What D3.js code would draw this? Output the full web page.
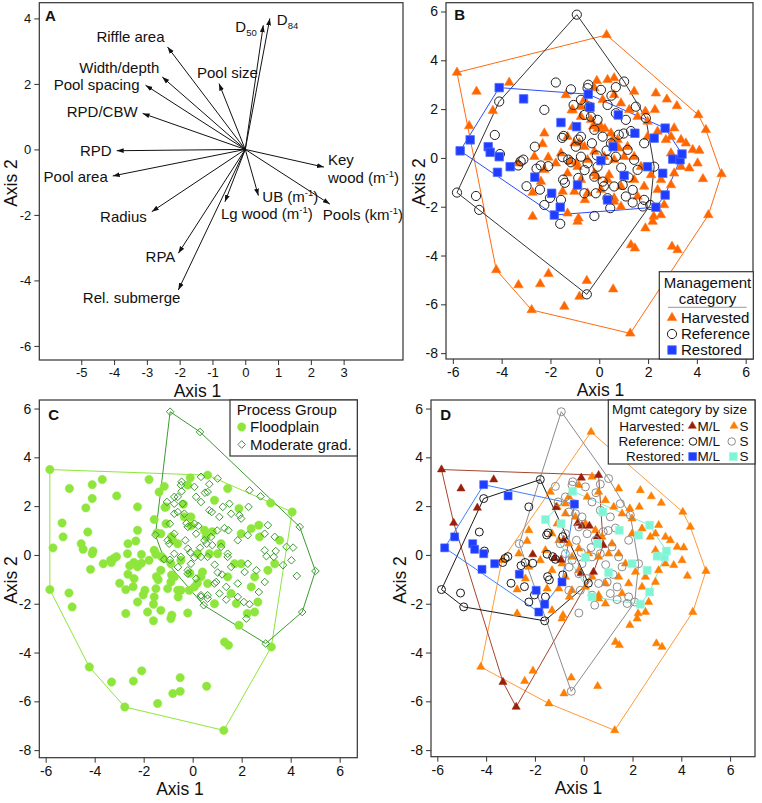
<!DOCTYPE html>
<html><head><meta charset="utf-8">
<script src="https://cdn.jsdelivr.net/npm/d3@7"></script>
<style>
body{margin:0;background:#fff}
svg{display:block}
text{font-family:"Liberation Sans",Arial,Helvetica,sans-serif;fill:#111}
</style>
</head><body>
<svg id="chart" width="762" height="803"></svg>
<script>
// ---------------- DATA ----------------
// Panel A: ordination vectors (Axis 1, Axis 2)
const vecNames = ["D50","D84","Pool size","Riffle area","Width/depth","Pool spacing","RPD/CBW","RPD","Pool area","Radius","RPA","Rel. submerge","Lg wood","UB","Key wood","Pools"];
const vecAxis1 = [0.55,0.75,-0.80,-2.37,-2.53,-3.04,-3.13,-3.92,-4.04,-2.85,-2.04,-2.04,-0.62,0.40,2.40,2.58];
const vecAxis2 = [3.79,4.00,2.01,3.13,2.21,1.96,1.10,-0.04,-0.81,-1.90,-3.17,-4.29,-1.60,-1.41,-0.54,-1.67];
// label text pieces: [text, kind] kind: "" normal, "sub", "sup"; one array per line
const vecLabelText = [
  [[["D",""],["50","sub"]]],
  [[["D",""],["84","sub"]]],
  [[["Pool size",""]]],
  [[["Riffle area",""]]],
  [[["Width/depth",""]]],
  [[["Pool spacing",""]]],
  [[["RPD/CBW",""]]],
  [[["RPD",""]]],
  [[["Pool area",""]]],
  [[["Radius",""]]],
  [[["RPA",""]]],
  [[["Rel. submerge",""]]],
  [[["Lg wood (m",""],["-1","sup"],[")",""]]],
  [[["UB (m",""],["-1","sup"],[")",""]]],
  [[["Key",""]],[["wood (m",""],["-1","sup"],[")",""]]],
  [[["Pools (km",""],["-1","sup"],[")",""]]]
];

// Sites: [Axis 1, Axis 2, process group] ; process: F = Floodplain, M = Moderate grad.
const harvestedML = [
[-5.83,3.50,"F"],[-5.03,2.72,"F"],[-3.69,3.09,"F"],[-4.36,1.93,"F"],[-5.33,1.31,"F"],
[-0.10,3.16,"F"],[0.61,3.27,"F"],[-1.13,1.95,"F"],[-0.25,1.30,"M"],[-0.07,1.19,"F"],
[0.23,1.19,"M"],[-2.09,0.02,"F"],[-1.20,-0.14,"F"],[-0.93,-0.20,"M"],[0.55,0.75,"F"],
[0.80,0.40,"M"],[-0.11,-0.75,"F"],[0.40,-0.70,"F"],[-0.82,0.61,"F"],[-3.31,-5.21,"F"],[-2.77,-6.23,"F"]
];
const harvestedS = [
[0.30,5.04,"M"],[0.34,3.20,"M"],[1.43,2.72,"F"],[2.32,2.65,"M"],[2.77,2.40,"M"],[3.18,2.13,"F"],[4.06,1.76,"F"],[4.37,1.15,"M"],
[2.28,1.97,"M"],[1.89,1.90,"F"],[3.07,1.22,"M"],[3.55,0.60,"F"],[3.83,0.33,"M"],[4.10,0.30,"M"],[5.01,-0.66,"M"],[4.25,-0.86,"M"],[-1.37,2.58,"F"],
[-2.25,1.01,"F"],[-2.32,0.57,"F"],[-2.66,0.05,"F"],[-3.35,-0.22,"F"],[-1.78,-0.22,"F"],[-2.25,-0.49,"F"],[-2.39,-0.97,"F"],[-2.73,-1.42,"F"],
[-1.09,1.97,"F"],[-0.75,2.10,"M"],[-0.61,2.38,"M"],[-0.20,2.86,"F"],[0.14,2.38,"M"],[0.61,2.58,"M"],[0.89,2.24,"F"],[1.23,1.97,"M"],
[1.57,1.69,"M"],[1.98,1.49,"M"],[2.39,1.08,"F"],[2.73,0.74,"F"],[2.94,0.19,"M"],[3.35,-0.36,"F"],[3.69,-0.42,"M"],[3.07,-0.63,"F"],
[2.53,-0.90,"F"],[2.12,-0.70,"M"],[1.71,-0.36,"F"],[1.43,0.05,"M"],[1.16,0.46,"F"],[0.75,0.74,"M"],[0.48,1.01,"F"],[0.07,1.28,"M"],
[-0.34,1.56,"F"],[-0.75,1.69,"M"],[-1.09,1.28,"F"],[-1.30,0.87,"F"],[-1.02,0.60,"M"],[-0.61,0.46,"F"],[-0.20,0.26,"M"],[0.20,0.05,"F"],
[0.61,-0.08,"M"],[1.02,0.05,"F"],[-0.48,-0.08,"M"],[-0.89,-0.36,"F"],[-1.30,-0.63,"F"],[-1.57,0.19,"F"],[-0.75,-0.90,"F"],[-0.20,-0.63,"M"],
[0.34,-0.90,"F"],[0.89,-1.17,"M"],[1.43,-0.90,"F"],[1.84,-1.17,"M"],[2.39,-1.31,"F"],[2.94,-1.11,"M"],[0.07,-1.31,"F"],[-0.48,-1.45,"F"],
[-1.02,-1.38,"F"],[-1.50,-1.38,"F"],[0.61,-1.65,"M"],[1.57,-1.58,"F"],[1.98,0.87,"F"],[2.94,0.87,"M"],[3.35,0.74,"M"],[4.03,-0.22,"M"],
[-2.73,-2.40,"F"],[-1.30,-2.27,"F"],[-0.89,-2.61,"F"],[-0.85,-2.47,"F"],[-0.59,-1.72,"F"],[0.89,-2.00,"F"],[0.61,-1.79,"M"],[1.89,-2.88,"F"],
[2.19,-2.61,"M"],[2.23,-2.40,"F"],[2.53,-2.34,"F"],[2.66,-1.93,"F"],[1.30,-3.57,"F"],[1.46,-3.70,"F"],[2.98,-3.63,"M"],[3.21,-3.77,"F"],
[4.47,-2.34,"M"],[-4.22,-4.59,"F"],[-2.42,-5.17,"F"],[-2.08,-4.75,"F"],[-0.51,-5.03,"F"],[-0.81,-5.68,"F"],[0.57,-5.38,"F"],[-1.43,-6.09,"F"],[1.27,-7.19,"F"]
];
const referenceML = [
[-1.78,3.09,"F"],[-2.25,1.97,"F"],[-4.10,2.31,"F"],[-4.28,0.94,"F"],[-4.07,0.16,"F"],[-5.83,-1.42,"F"],[-5.05,-1.56,"F"],
[-3.32,-0.31,"F"],[-3.22,-0.14,"F"],[-3.11,-0.07,"F"],[-2.57,-0.44,"F"],[-2.40,-0.31,"F"],[-2.09,-0.34,"F"],[-2.98,-1.16,"F"],
[-2.43,-1.30,"F"],[-2.02,-1.64,"F"],[-1.48,-0.89,"F"],[-1.41,-1.02,"F"],[-1.50,0.03,"F"],[-1.27,-0.07,"F"],[-1.16,-0.18,"M"],
[-0.86,-0.82,"F"],[-1.52,0.82,"M"],[-0.86,0.75,"F"],[0.19,-1.16,"F"],[-4.92,-2.13,"F"],[-2.25,-1.93,"F"],[-1.60,-2.70,"F"],
[-1.57,-1.72,"F"],[-1.46,0.90,"F"]
];
const referenceS = [
[-0.92,5.87,"M"],[-1.16,2.81,"F"],[-0.48,2.86,"M"],[0.07,2.79,"M"],[0.68,2.90,"M"],[1.02,3.13,"M"],[-0.75,2.38,"M"],[-0.41,2.10,"M"],
[-0.61,1.76,"M"],[-0.34,1.69,"M"],[-0.07,1.56,"F"],[0.34,2.17,"M"],[0.68,1.83,"M"],[1.09,1.56,"M"],[1.50,2.10,"M"],[1.91,1.63,"M"],
[1.84,0.60,"M"],[1.16,0.33,"M"],[0.80,0.95,"F"],[0.48,0.60,"M"],[0.14,0.87,"M"],[-0.20,1.15,"M"],[-0.75,0.87,"M"],[-0.96,0.46,"M"],
[-0.75,0.05,"M"],[-0.48,-0.22,"F"],[-0.07,-0.36,"M"],[0.34,-0.08,"M"],[0.68,0.05,"F"],[1.43,-0.08,"M"],[1.57,-0.49,"M"],[2.25,-0.36,"M"],
[-0.20,-0.77,"M"],[0.14,-0.97,"M"],[0.61,-1.17,"F"],[0.96,-1.11,"M"],[1.37,-1.31,"M"],[-0.61,-1.45,"F"],[-0.14,-1.45,"F"],[0.34,-1.65,"M"],
[1.09,-1.58,"M"],[1.84,-1.72,"M"],[-0.20,-2.38,"F"],[0.45,-2.06,"M"],[1.37,-1.83,"M"],[1.78,-1.99,"F"],[2.09,-1.93,"M"],[-0.51,-5.59,"F"],
[-0.45,3.00,"M"],[0.50,2.55,"M"],[1.30,1.10,"M"],[1.00,1.00,"M"],[0.30,0.30,"M"],[-0.30,0.60,"M"],[-0.60,-0.50,"M"],[0.90,-0.40,"M"],
[1.20,-0.80,"M"],[-0.10,0.10,"M"],[-2.64,0.46,"F"],[-1.05,2.17,"M"]
];
const restoredML = [
[-4.10,2.88,"F"],[-3.10,2.42,"F"],[-5.29,0.74,"F"],[-5.70,0.29,"F"],[-4.55,0.46,"F"],[-4.47,0.23,"F"],[-4.10,0.05,"F"],[-3.65,-0.36,"F"],
[-4.17,-0.59,"F"],[-2.64,-0.79,"F"],[-1.95,-1.45,"F"],[-0.38,2.08,"F"],[-0.89,-1.11,"F"],[-1.84,-2.34,"F"],[-1.60,-2.02,"F"]
];
const restoredS = [
[-0.45,2.61,"M"],[-1.57,1.45,"F"],[-0.93,1.28,"M"],[0.78,1.76,"M"],[1.46,1.01,"M"],[2.25,0.81,"M"],[2.70,1.22,"F"],[3.01,-0.05,"M"],
[3.31,-0.08,"M"],[3.39,0.16,"M"],[1.98,-0.36,"F"],[2.60,-0.63,"M"],[1.02,-0.72,"M"],[0.07,-0.11,"M"],[0.57,0.46,"M"],[2.70,-1.52,"M"],
[2.32,-2.02,"M"],[0.34,-1.72,"M"]
];

// tick values
const ticksAx = [-5,-4,-3,-2,-1,0,1,2,3];
const ticksAy = [-6,-4,-2,0,2,4];
const ticksX = [-6,-4,-2,0,2,4,6];
const ticksY = [-8,-6,-4,-2,0,2,4,6];

// ---------------- LAYOUT ----------------
const panels = {
  A:{left:39.3,right:403,top:2.7,bottom:360,xDom:[-6.28,4.81],yDom:[-6.43,4.48]},
  B:{left:446,right:753,top:2.7,bottom:359,xDom:[-6.28,6.30],yDom:[-8.24,6.36]},
  C:{left:39.3,right:357.3,top:400,bottom:757.7,xDom:[-6.26,6.72],yDom:[-8.31,6.35]},
  D:{left:431,right:755,top:400,bottom:756.7,xDom:[-6.26,7.02],yDom:[-8.27,6.35]}
};
// label offsets from arrow tip (px) and anchor
const vecLabelPos = [
  [-28,7,"start"],[7,7,"start"],[-22,-6,"start"],[-3,-5,"end"],[-3,-4,"end"],[-6,5,"end"],
  [-5,4,"end"],[-5,5,"end"],[-5,6,"end"],[-5,10,"end"],[-3,9,"end"],[2,13,"end"],
  [-4,17,"start"],[4,6,"start"],[4,-2,"start"],[-7,16,"start"]
];

const svg = d3.select("#chart");
svg.append("rect").attr("width",762).attr("height",803).attr("fill","#fff");
const defs = svg.append("defs");
defs.append("marker").attr("id","arrow").attr("viewBox","0 0 10 10")
  .attr("refX",10).attr("refY",5).attr("markerWidth",7).attr("markerHeight",7)
  .attr("orient","auto").attr("markerUnits","userSpaceOnUse")
  .append("path").attr("d","M0,1.5 L10,5 L0,8.5 Z").attr("fill","#111");

function makePanel(p, xt, yt, letter, letterXY, xTitleXY, yTitleXY, tickFont){
  const xs = d3.scaleLinear().domain(p.xDom).range([p.left,p.right]);
  const ys = d3.scaleLinear().domain(p.yDom).range([p.bottom,p.top]);
  const g = svg.append("g");
  const ax = g.append("g").attr("transform",`translate(0,${p.bottom})`)
    .call(d3.axisBottom(xs).tickValues(xt).tickSize(5).tickPadding(3).tickSizeOuter(0).tickFormat(d=>String(d)));
  const ay = g.append("g").attr("transform",`translate(${p.left},0)`)
    .call(d3.axisLeft(ys).tickValues(yt).tickSize(5).tickPadding(3).tickSizeOuter(0).tickFormat(d=>String(d)));
  [ax,ay].forEach(a=>{
    a.select(".domain").remove();
    a.selectAll(".tick line").attr("stroke","#333").attr("stroke-width",1);
    a.selectAll(".tick text").attr("font-size",tickFont).attr("fill","#111")
      .attr("font-family",'"Liberation Sans",Arial,sans-serif');
  });
  g.append("text").attr("x",xTitleXY[0]).attr("y",xTitleXY[1]).attr("text-anchor","middle")
    .attr("font-size",17.5).text("Axis 1");
  g.append("text").attr("transform",`translate(${yTitleXY[0]},${yTitleXY[1]}) rotate(-90)`)
    .attr("text-anchor","middle").attr("font-size",17.5).text("Axis 2");
  const body = g.append("g");
  g.append("rect").attr("x",p.left).attr("y",p.top).attr("width",p.right-p.left).attr("height",p.bottom-p.top)
    .attr("fill","none").attr("stroke","#333").attr("stroke-width",1.2);
  g.append("text").attr("x",letterXY[0]).attr("y",letterXY[1]).attr("font-weight","bold")
    .attr("font-size",15).text(letter);
  return {xs,ys,g,body};
}

function symPath(kind, s){
  if(kind==="tri") return d3.symbol().type(d3.symbolTriangle).size(s*s*0.433)();
  if(kind==="sq") return d3.symbol().type(d3.symbolSquare).size(s*s)();
  if(kind==="circ") return d3.symbol().type(d3.symbolCircle).size(Math.PI*s*s/4)();
  if(kind==="dia"){const r=s/2; return `M0,${-r}L${r},0L0,${r}L${-r},0Z`;}
}
function drawPts(layer, data, xs, ys, kind, s, fill, stroke, sw){
  layer.append("g").selectAll("path").data(data).join("path")
    .attr("d",symPath(kind,s))
    .attr("transform",d=>`translate(${xs(d[0])},${ys(d[1])})`)
    .attr("fill",fill).attr("stroke",stroke).attr("stroke-width",sw||1);
}
function drawHull(layer, data, xs, ys, color){
  const hull = d3.polygonHull(data.map(d=>[xs(d[0]),ys(d[1])]));
  if(!hull) return;
  layer.append("path").attr("d","M"+hull.map(q=>q.join(",")).join("L")+"Z")
    .attr("fill","none").attr("stroke",color).attr("stroke-width",1);
}
function legendSym(layer, x, y, kind, s, fill, stroke, sw){
  layer.append("path").attr("d",symPath(kind,s)).attr("transform",`translate(${x},${y})`)
    .attr("fill",fill).attr("stroke",stroke).attr("stroke-width",sw||1);
}
function richText(layer, x, y, anchor, lines, size){
  lines.forEach((line,i)=>{
    const t = layer.append("text").attr("x",x).attr("y",y+i*18).attr("text-anchor",anchor).attr("font-size",size);
    let shift = 0;
    line.forEach(([txt,kind])=>{
      let target = kind==="sub"?4:(kind==="sup"?-6:0);
      const ts = t.append("tspan").text(txt).attr("dy",target-shift);
      if(kind) ts.attr("font-size",9.5);
      shift = target;
    });
  });
}

// ---------------- PANEL A ----------------
(function(){
  const P = makePanel(panels.A, ticksAx, ticksAy, "A", [45,21], [197.5,397], [17,183], 13);
  const {xs,ys,body} = P;
  vecNames.forEach((n,i)=>{
    const x1 = xs(vecAxis1[i]), y1 = ys(vecAxis2[i]);
    body.append("line").attr("x1",xs(0)).attr("y1",ys(0)).attr("x2",x1).attr("y2",y1)
      .attr("stroke","#111").attr("stroke-width",1).attr("marker-end","url(#arrow)");
    const [dx,dy,anc] = vecLabelPos[i];
    richText(body, x1+dx, y1+dy, anc, vecLabelText[i], 15);
  });
})();

// ---------------- PANEL B ----------------
const allHarvested = harvestedML.concat(harvestedS);
const allReference = referenceML.concat(referenceS);
const allRestored = restoredML.concat(restoredS);
(function(){
  const P = makePanel(panels.B, ticksX, ticksY, "B", [454.3,20], [600.5,396], [425,182], 14);
  const {xs,ys,body,g} = P;
  drawHull(body, allHarvested, xs, ys, "#ff6a10");
  drawHull(body, allReference, xs, ys, "#333");
  drawHull(body, allRestored, xs, ys, "#2c4cff");
  drawPts(body, allHarvested, xs, ys, "tri", 9.5, "#ff6600", "#ff7a20", 0.6);
  drawPts(body, allReference, xs, ys, "circ", 9.2, "none", "#222", 1);
  drawPts(body, allRestored, xs, ys, "sq", 8.5, "#1f3cff", "#5070ff", 0.8);
  // legend
  const L = g.append("g");
  L.append("rect").attr("x",659.3).attr("y",271.7).attr("width",94).attr("height",87.3)
    .attr("fill","#fff").attr("stroke","#333").attr("stroke-width",1.2);
  L.append("text").attr("x",707.5).attr("y",288).attr("text-anchor","middle").attr("font-size",15).text("Management");
  L.append("text").attr("x",707.5).attr("y",303.5).attr("text-anchor","middle").attr("font-size",15).text("category");
  L.append("line").attr("x1",668).attr("x2",746.7).attr("y1",307.3).attr("y2",307.3).attr("stroke","#999").attr("stroke-width",1);
  legendSym(L,672,317.8,"tri",9.5,"#ff6600","#ff7a20",0.6);
  legendSym(L,672,334,"circ",9.2,"none","#222",1);
  legendSym(L,672,350,"sq",8.5,"#1f3cff","#5070ff",0.8);
  L.append("text").attr("x",681).attr("y",322.5).attr("font-size",15).text("Harvested");
  L.append("text").attr("x",681).attr("y",339).attr("font-size",15).text("Reference");
  L.append("text").attr("x",681).attr("y",355).attr("font-size",15).text("Restored");
})();

// ---------------- PANEL C ----------------
(function(){
  const P = makePanel(panels.C, ticksX, ticksY, "C", [48.3,420], [180,795], [17,580], 14);
  const {xs,ys,body,g} = P;
  const all = allHarvested.concat(allReference, allRestored);
  const flood = all.filter(d=>d[2]==="F");
  const moder = all.filter(d=>d[2]==="M");
  drawHull(body, flood, xs, ys, "#8ee63c");
  drawHull(body, moder, xs, ys, "#3a9a30");
  drawPts(body, flood, xs, ys, "circ", 8.4, "#8ee63c", "#8ee63c", 0.5);
  drawPts(body, moder, xs, ys, "dia", 7.6, "none", "#3a9a30", 1);
  const L = g.append("g");
  L.append("rect").attr("x",230).attr("y",400).attr("width",127.3).attr("height",56)
    .attr("fill","#fff").attr("stroke","#333").attr("stroke-width",1.2);
  L.append("text").attr("x",236.7).attr("y",415).attr("font-size",15).text("Process Group");
  legendSym(L,241.7,427,"circ",8.4,"#8ee63c","#8ee63c",0.5);
  legendSym(L,241.7,444.5,"dia",7.6,"none","#3a9a30",1);
  L.append("text").attr("x",250).attr("y",432).attr("font-size",15).text("Floodplain");
  L.append("text").attr("x",250).attr("y",449.5).attr("font-size",15).text("Moderate grad.");
})();

// ---------------- PANEL D ----------------
(function(){
  const P = makePanel(panels.D, ticksX, ticksY, "D", [440.3,420], [578.5,794], [406,580], 14);
  const {xs,ys,body,g} = P;
  const cHS="#ff7f00", cHM="#9a1f0a", cRS="#8c8c8c", cRM="#1a1a1a", cEM="#1f3cff", cES="#7ff5d6";
  drawHull(body, harvestedS, xs, ys, "#ff9a3a");
  drawHull(body, harvestedML, xs, ys, "#a5452e");
  drawHull(body, referenceS, xs, ys, "#8c8c8c");
  drawHull(body, referenceML, xs, ys, "#1a1a1a");
  drawHull(body, restoredML, xs, ys, "#3f7fff");
  drawHull(body, restoredS, xs, ys, "#7fe8d0");
  drawPts(body, harvestedS, xs, ys, "tri", 8.2, cHS, cHS, 0.5);
  drawPts(body, harvestedML, xs, ys, "tri", 8.2, cHM, cHM, 0.5);
  drawPts(body, referenceS, xs, ys, "circ", 8, "none", cRS, 1);
  drawPts(body, referenceML, xs, ys, "circ", 8, "none", cRM, 1);
  drawPts(body, restoredML, xs, ys, "sq", 8, cEM, "#4a6aff", 0.6);
  drawPts(body, restoredS, xs, ys, "sq", 8, cES, "#9ff8e0", 0.6);
  const L = g.append("g");
  L.append("rect").attr("x",608.3).attr("y",400).attr("width",146.7).attr("height",64)
    .attr("fill","#fff").attr("stroke","#333").attr("stroke-width",1.2);
  L.append("text").attr("x",612).attr("y",414).attr("font-size",13.5).text("Mgmt category by size");
  const rows = [["Harvested:",430.7],["Reference:",446],["Restored:",461]];
  rows.forEach(([t,y])=>{
    L.append("text").attr("x",684.5).attr("y",y).attr("text-anchor","end").attr("font-size",13.5).text(t);
    L.append("text").attr("x",697.5).attr("y",y).attr("font-size",13.5).text("M/L");
    L.append("text").attr("x",739.5).attr("y",y).attr("font-size",13.5).text("S");
  });
  legendSym(L,692.3,426,"tri",8,cHM,cHM,0.5);
  legendSym(L,734,426,"tri",8,cHS,cHS,0.5);
  legendSym(L,693,441.5,"circ",7.5,"none",cRM,1);
  legendSym(L,731.7,441.5,"circ",7.5,"none",cRS,1);
  legendSym(L,692.7,456.5,"sq",8,cEM,"#4a6aff",0.6);
  legendSym(L,733.3,456.5,"sq",8,cES,"#9ff8e0",0.6);
})();
</script>
</body></html>
